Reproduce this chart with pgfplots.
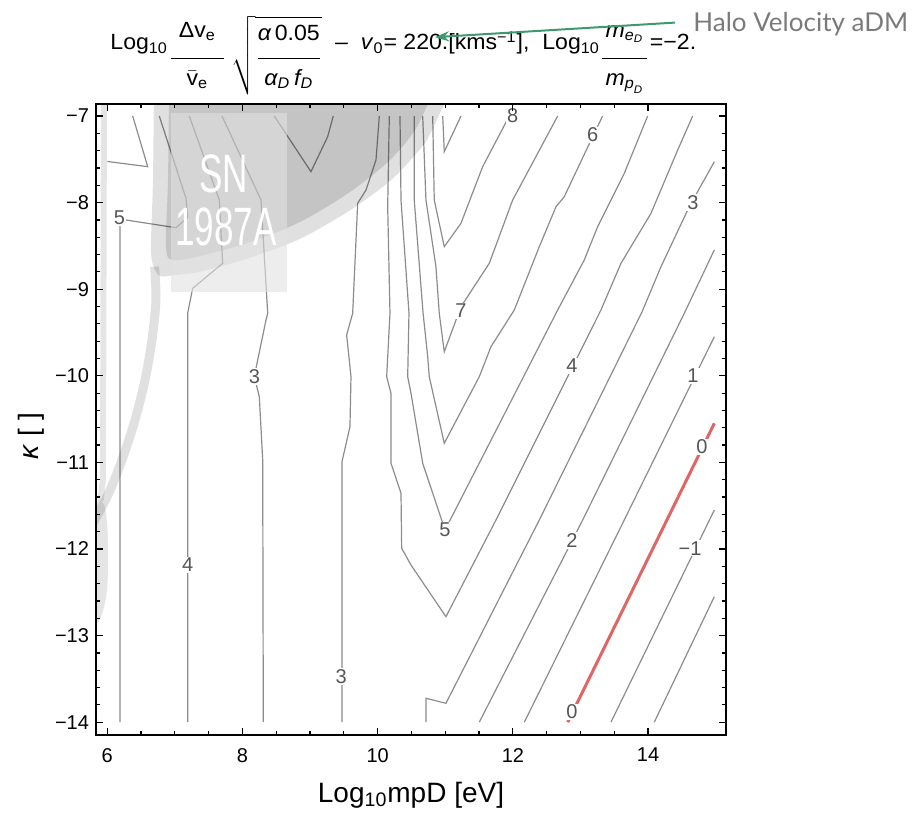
\documentclass[border=0pt]{standalone}
\usepackage{fontspec}
\setmainfont{Liberation Sans}
\newfontfamily\halofont{Lato}
\usepackage{amsmath}
\usepackage{pgfplots}
\pgfplotsset{compat=1.18}
\usetikzlibrary{arrows.meta}
\definecolor{cline}{HTML}{8C8C8C}
\definecolor{clab}{HTML}{555555}
\definecolor{snRect}{HTML}{E1E1E1}
\definecolor{zeroRed}{HTML}{E06666}
\definecolor{arrowGreen}{HTML}{3D9A6E}
\definecolor{haloGray}{HTML}{7A7A7A}
\newcommand{\T}[1]{\text{#1}}
\newcommand{\nb}{\rule[-9pt]{0pt}{1pt}}
\newcommand{\nbs}{\rule[-7.5pt]{0pt}{1pt}}
\newcommand{\db}{\rule{0pt}{12pt}}
\tikzset{lab/.style={text=clab, fill=white, inner sep=0.6pt, font=\fontsize{10}{12}\selectfont}}
\pgfplotsset{cl/.style={draw=cline, line width=0.6pt, mark=none}}

\begin{document}
\begin{tikzpicture}
\path[use as bounding box] (-48pt,-38.5pt) rectangle (408.5pt,367.5pt);
\begin{axis}[
  at={(0pt,0pt)}, anchor=south west, scale only axis,
  width=315pt, height=315.5pt,
  xmin=5.833, xmax=15.153, ymin=-14.148, ymax=-6.861,
  xtick={6,8,10,12,14}, minor x tick num=3,
  xticklabels={6,8,10,12,14},
  ytick={-14,-13,...,-7}, minor y tick num=4,
  yticklabels={−14,−13,−12,−11,−10,−9,−8,−7},
  tick align=inside, major tick length=3.5pt, minor tick length=2pt,
  axis line style={line width=0.8pt},
  every tick/.style={black, line width=0.6pt},
  ticklabel style={font=\fontsize{10}{12}\selectfont},
  xticklabel style={yshift=-3pt},
  axis on top,
]
% contours
\addplot[cl] coordinates {(6.188,-14) (6.188,-8.19) (7.016,-8.29) (7.189,-8.17) (7.164,-7.95) (6.769,-7.0)};
\addplot[cl] coordinates {(6.0,-7.525) (6.598,-7.585) (6.376,-7.0)};
\addplot[cl] coordinates {(7.189,-14) (7.189,-9.278) (7.263,-8.99) (7.707,-8.701) (7.657,-7.970) (7.213,-7.0)};
\addplot[cl] coordinates {(7.697,-7.0) (8.274,-7.970) (8.373,-9.278) (8.348,-9.356) (8.225,-9.818) (8.175,-10.010) (8.249,-10.241) (8.299,-10.972) (8.308,-14)};
\addplot[cl] coordinates {(8.47,-7.0) (9.013,-7.643) (9.26,-7.239) (9.343,-7.0)};
\addplot[cl] coordinates {(10.024,-7.0) (9.975,-7.508) (9.827,-7.855) (9.704,-8.008) (9.630,-9.278) (9.541,-9.529) (9.605,-10.010) (9.590,-10.588) (9.472,-10.992) (9.472,-14)};
\addplot[cl] coordinates {(10.172,-7.0) (10.148,-8.047) (10.182,-9.278) (10.133,-10.010) (10.197,-10.202) (10.197,-11.010) (10.345,-11.357) (10.355,-11.992) (10.493,-12.185) (11.010,-12.782) (11.750,-11.665) (13.303,-9.240) (13.599,-8.701) (14.043,-8.124) (14.438,-7.393) (14.660,-7.0)};
\addplot[cl] coordinates {(10.330,-7.0) (10.345,-7.970) (10.463,-9.275) (10.444,-10.010) (10.493,-10.202) (10.666,-11.010) (10.996,-11.781) (12.663,-9.240) (13.056,-8.663) (13.254,-8.278) (13.648,-7.662) (13.994,-7.0)};
\addplot[cl] coordinates {(10.541,-7.0) (10.541,-7.970) (10.670,-9.263) (10.740,-9.779) (10.763,-10.010) (10.985,-10.779) (11.503,-10.010) (11.676,-9.664) (12.021,-9.240) (12.391,-8.509) (12.638,-8.047) (12.760,-7.932) (13.180,-7.239) (13.328,-7.0)};
\addplot[cl] coordinates {(10.666,-7.0) (10.714,-7.970) (10.862,-8.740) (10.911,-9.278) (10.985,-9.722) (11.232,-9.202) (11.651,-8.701) (11.997,-7.970) (12.663,-7.0)};
\addplot[cl] coordinates {(10.814,-7.0) (10.837,-7.970) (10.985,-8.509) (11.232,-8.239) (11.553,-7.585) (11.947,-7.0)};
\addplot[cl] coordinates {(10.962,-7.0) (10.985,-7.412) (11.232,-7.0)};
\addplot[cl] coordinates {(10.714,-14) (10.714,-13.724) (11.010,-13.782) (12.391,-11.665) (13.91,-9.263) (14.191,-8.740) (14.609,-8.047) (14.98,-7.528)};
\addplot[cl] coordinates {(11.503,-14) (13.033,-11.665) (14.536,-9.278) (14.98,-8.547)};
\addplot[cl] coordinates {(12.169,-14) (13.648,-11.665) (14.98,-9.549)};
\addplot[draw=zeroRed, line width=1.5pt] coordinates {(12.811,-14) (14.98,-10.549)};
\addplot[cl] coordinates {(13.451,-14) (14.98,-11.550)};
\addplot[cl] coordinates {(14.092,-14) (14.98,-12.551)};

% contour labels
\node[lab] at (axis cs:6.18,-8.18) {5};
\node[lab] at (axis cs:8.175,-10.01) {3};
\node[lab] at (axis cs:7.189,-12.18) {4};
\node[lab] at (axis cs:9.46,-13.47) {3};
\node[lab] at (axis cs:11.232,-9.25) {7};
\node[lab] at (axis cs:11.997,-7.0) {8};
\node[lab] at (axis cs:13.18,-7.22) {6};
\node[lab] at (axis cs:14.664,-8.0) {3};
\node[lab] at (axis cs:12.874,-9.887) {4};
\node[lab] at (axis cs:14.664,-10.0) {1};
\node[lab] at (axis cs:14.795,-10.82) {0};
\node[lab] at (axis cs:10.996,-11.78) {5};
\node[lab] at (axis cs:12.874,-11.9) {2};
\node[lab] at (axis cs:14.62,-11.99) {−1};
\node[lab] at (axis cs:12.874,-13.88) {0};

% SN1987A overlay: outer light band, inner dark region
\addplot[fill=black, fill opacity=0.12, draw=none, smooth] coordinates {(6.70,-6.40) (6.691,-6.642) (6.676,-7.739) (6.646,-8.490) (6.676,-8.721) (6.780,-8.848) (7.001,-8.836) (7.371,-8.797) (8.111,-8.637) (8.851,-8.418) (9.590,-8.089) (10.182,-7.751) (10.552,-7.450) (10.744,-7.254) (10.996,-6.838) (11.099,-6.642) (11.2,-6.40)};
\addplot[fill=black, fill opacity=0.125, draw=none, smooth] coordinates {(6.92,-6.40) (6.913,-6.700) (6.898,-7.739) (6.868,-8.490) (6.957,-8.663) (7.371,-8.617) (8.111,-8.455) (8.851,-8.224) (9.590,-7.878) (10.182,-7.508) (10.552,-7.162) (10.803,-6.757) (10.92,-6.584) (11.0,-6.40)};
% left light bands
\addplot[draw=black, draw opacity=0.12, line width=4.5pt, smooth] coordinates {(6.70,-8.74) (6.720,-9.125) (6.661,-9.587) (6.558,-10.048) (6.410,-10.51) (6.217,-10.972) (6.010,-11.376) (5.774,-11.723)};
\addplot[draw=black, draw opacity=0.10, line width=3pt] coordinates {(5.951,-6.757) (5.936,-11.2) (5.90,-11.45)};
\addplot[fill=black, fill opacity=0.10, draw=none, smooth] coordinates {(5.744,-11.45) (5.951,-11.48) (6.010,-11.896) (5.996,-12.473) (5.892,-12.820) (5.744,-12.878)};
% SN1987A picture
\addplot[fill=snRect, fill opacity=0.6, draw=none] coordinates {(6.942,-6.969) (8.654,-6.969) (8.654,-9.029) (6.942,-9.029)};
\node[text=white, font=\fontsize{27}{27}\selectfont, xscale=0.65] at (axis cs:7.726,-7.664) {SN};
\node[text=white, font=\fontsize{27}{27}\selectfont, xscale=0.65] at (axis cs:7.756,-8.282) {1987A};
\end{axis}

% axis labels
\node[anchor=base, font=\fontsize{14}{16}\selectfont] at (157.5pt,-33.5pt) {Log\textsubscript{10}mpD [eV]};
\node[rotate=90, font=\fontsize{14}{16}\selectfont] at (-32.5pt,149.5pt) {\textit{κ} [ ]};

% title
\node[anchor=base west, inner sep=0pt, xscale=1.05, font=\fontsize{11}{13}\selectfont] at (7pt,342.5pt)
 {Log\textsubscript{10}\raisebox{-7pt}{$\dfrac{\kern4pt\T{Δv}_{\T{e}}\nb\kern4pt}{\db\bar{\T{v}}_{\T{e}}}\hspace{2pt}\sqrt{\dfrac{\T{\itshape α}\,\T{0.05}\nbs}{\db\T{\itshape α}_{\T{\itshape D}}\,\T{\itshape f}_{\T{\itshape D}}}}$}\ \ –\ \ \textit{v}\textsubscript{0}= 220.[kms$^{\T{−1}}$],\ \ Log\textsubscript{10}\raisebox{-7pt}{$\dfrac{\kern1.5pt\T{\itshape m}_{\T{\itshape e}_{\T{\itshape D}}}\nb\kern1.5pt}{\db\T{\itshape m}_{\T{\itshape p}_{\T{\itshape D}}}}$}=−2.};
\node[anchor=base west, inner sep=0pt, text=haloGray, font=\halofont\fontsize{13}{15}\selectfont] at (298.5pt,351.5pt) {Halo Velocity aDM};
\draw[arrowGreen, line width=1pt, -{Stealth[length=7pt,width=5pt]}] (289.5pt,356.2pt) -- (169.5pt,348.9pt);
\end{tikzpicture}
\end{document}
